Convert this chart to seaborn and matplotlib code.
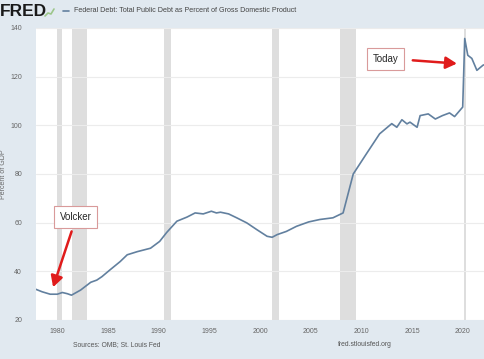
import matplotlib
matplotlib.use("Agg")
import matplotlib.pyplot as plt
import numpy as np
import pandas as pd
import seaborn as sns

# Federal debt as percent of GDP
years = [1977.9, 1978.5, 1979.3, 1980.0, 1980.5, 1981.0, 1981.4, 1982.3, 1983.3,
         1983.9, 1984.4, 1985.2, 1986.2, 1986.9, 1987.9, 1989.2, 1990.1, 1990.8,
         1991.8, 1992.8, 1993.6, 1994.4, 1995.2, 1995.7, 1996.1, 1996.9, 1997.7,
         1998.7, 1999.7, 2000.7, 2001.2, 2001.7, 2002.6, 2003.6, 2004.8, 2005.9,
         2007.2, 2008.2, 2008.7, 2009.2, 2010.5, 2011.8, 2013.0, 2013.5, 2014.0,
         2014.5, 2014.8, 2015.5, 2015.8, 2016.6, 2017.3, 2018.0, 2018.7, 2019.2,
         2020.0, 2020.2, 2020.5, 2020.9, 2021.4, 2022.0, 2022.2]
debt_pct = [32.6, 31.6, 30.6, 30.6, 31.3, 30.8, 30.2, 32.3, 35.5,
            36.4, 37.8, 40.6, 44.0, 46.8, 48.1, 49.5, 52.3, 56.0,
            60.6, 62.3, 64.0, 63.6, 64.7, 64.0, 64.3, 63.6, 62.0,
            59.9, 57.1, 54.4, 54.0, 55.1, 56.4, 58.5, 60.3, 61.3,
            62.0, 64.0, 72.0, 80.0, 88.3, 96.5, 100.7, 99.2, 102.3,
            100.6, 101.3, 99.2, 104.0, 104.7, 102.6, 104.0, 105.1, 103.6,
            107.5, 135.7, 128.8, 127.5, 122.6, 124.7, 125.0]

# NBER recessions (shaded)
rec_start = [1980.0, 1981.5, 1990.5, 2001.2, 2007.9, 2020.1]
rec_end = [1980.5, 1982.9, 1991.2, 2001.9, 2009.5, 2020.3]

x_ticks = [1980, 1985, 1990, 1995, 2000, 2005, 2010, 2015, 2020]
y_ticks = [20, 40, 60, 80, 100, 120, 140]

series_name = "Federal Debt: Total Public Debt as Percent of Gross Domestic Product"

df = pd.DataFrame({"year": years, "pct": debt_pct})

sns.set_theme(style="white")
plt.rcParams["font.family"] = ["Liberation Sans", "DejaVu Sans"]

bg = "#e1e9f0"
line_col = "#62809f"
tick_col = "#666666"

fig = plt.figure(figsize=(4.85, 3.59), dpi=100, facecolor=bg)
ax = fig.add_axes([36 / 485, 1 - 320 / 359, 1 - 36 / 485, (320 - 28) / 359])
ax.set_facecolor("white")

for s, e in zip(rec_start, rec_end):
    ax.axvspan(s, e, color="#dedede", lw=0, zorder=0)

for y in y_ticks:
    ax.axhline(y, color="#ececec", lw=0.8, zorder=0.5)

sns.lineplot(data=df, x="year", y="pct", ax=ax, color=line_col, lw=1.2, zorder=3)

ax.set_xlim(1977.9, 2022.2)
ax.set_ylim(20, 140)
ax.set_xticks(x_ticks)
ax.set_yticks(y_ticks)
ax.tick_params(axis="both", length=0, labelsize=5, colors=tick_col)
ax.tick_params(axis="y", pad=10)
ax.tick_params(axis="x", pad=6)
ax.set_xlabel("")
ax.set_ylabel("Percent of GDP", fontsize=5, color=tick_col)
ax.yaxis.set_label_coords(-29 / 449, 0.5)
for sp in ax.spines.values():
    sp.set_visible(False)

# annotations
box = dict(boxstyle="square,pad=0.6", fc="white", ec="#d99a9a", lw=0.8)
arrow = dict(arrowstyle="-|>,head_length=0.55,head_width=0.3", color="#e01b1b", lw=1.8)
ax.annotate("", xy=(1979.5, 32.4), xytext=(1981.5, 57.5), arrowprops=arrow, zorder=5)
ax.text(1981.8, 62.2, "Volcker", fontsize=7, ha="center", va="center", bbox=box, zorder=6)
ax.annotate("", xy=(2019.7, 125.3), xytext=(2014.8, 126.8), arrowprops=arrow, zorder=5)
ax.text(2012.4, 127.2, "Today", fontsize=7, ha="center", va="center", bbox=box, zorder=6)

# header
fig.text(0.0, 1 - 12 / 359, "FRED", fontsize=12.5, fontweight="bold", color="#1a1a1a",
         ha="left", va="center")
icon_x = np.array([45, 48, 51, 54]) / 485
icon_y = 1 - np.array([16, 13, 14, 9]) / 359
fig.add_artist(plt.Line2D(icon_x, icon_y, color="#9cc68a", lw=1.2))
fig.add_artist(plt.Line2D([63 / 485, 69 / 485], [1 - 11 / 359] * 2, color=line_col, lw=1.2))
fig.text(74 / 485, 1 - 11 / 359, series_name, fontsize=5.1, color="#444444", va="center")

# footer
fig.text(117 / 485, 1 - 345 / 359, "Sources: OMB; St. Louis Fed", fontsize=4.9,
         color="#555555", ha="center", va="center")
fig.text(365 / 485, 1 - 345 / 359, "fred.stlouisfed.org", fontsize=4.9,
         color="#555555", ha="center", va="center")

fig.savefig("out.png", dpi=100, facecolor=bg)
